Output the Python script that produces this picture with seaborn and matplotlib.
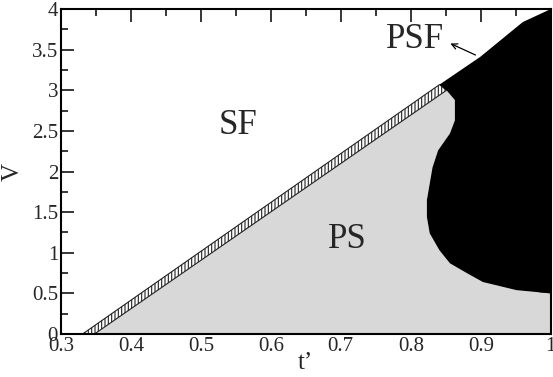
import matplotlib
matplotlib.use("Agg")
import matplotlib.pyplot as plt
import seaborn as sns
from matplotlib.ticker import MultipleLocator, FormatStrFormatter

# phase boundaries (t', V)
sf_edge_t = [0.331, 0.841]
sf_edge_v = [0.0, 3.07]
ps_edge_t = [0.348, 0.851]
ps_edge_v = [0.0, 3.00]

# black PSF region: lower/left boundary (top to bottom)
psf_low_t = [0.851, 0.863, 0.863, 0.856, 0.839, 0.831, 0.823, 0.823, 0.827,
             0.841, 0.856, 0.880, 0.903, 0.951, 1.0]
psf_low_v = [3.00, 2.88, 2.63, 2.47, 2.26, 2.05, 1.65, 1.44, 1.24,
             1.03, 0.87, 0.75, 0.64, 0.54, 0.50]
# black PSF region: upper boundary
psf_up_t = [0.841, 0.899, 0.960, 1.0]
psf_up_v = [3.07, 3.41, 3.84, 4.0]

labels = ["SF", "PS", "PSF"]
label_t = [0.553, 0.71, 0.806]
label_v = [2.57, 1.16, 3.62]

sns.set_style("ticks")
plt.rcParams['font.family'] = ['Liberation Serif', 'DejaVu Serif']
plt.rcParams['hatch.linewidth'] = 0.8

fig = plt.figure(figsize=(5.53, 3.77), dpi=100)
ax = fig.add_axes([0.110, 0.114, 0.886, 0.862])

# grey PS region
gray_t = ps_edge_t + psf_low_t + [1.0, ps_edge_t[0]]
gray_v = ps_edge_v + psf_low_v + [0.0, 0.0]
ax.fill(gray_t, gray_v, color='#d8d8d8', lw=0)

# hatched strip between SF and PS
strip_t = sf_edge_t + ps_edge_t[::-1]
strip_v = sf_edge_v + ps_edge_v[::-1]
ax.fill(strip_t, strip_v, facecolor='white', edgecolor='#222222',
        hatch='|||||', lw=0.8)

# black PSF region
blk_t = psf_up_t + [1.0] + psf_low_t[::-1]
blk_v = psf_up_v + [0.5] + psf_low_v[::-1]
ax.fill(blk_t, blk_v, color='black', lw=0)

for lab, t, v in zip(labels, label_t, label_v):
    ax.text(t, v, lab, fontsize=25, ha='center', va='center')

ax.annotate("", xy=(0.853, 3.59), xytext=(0.896, 3.42),
            arrowprops=dict(arrowstyle='->', color='black', lw=0.9))

ax.set_xlim(0.3, 1.0)
ax.set_ylim(0, 4)
ax.xaxis.set_major_locator(MultipleLocator(0.1))
ax.xaxis.set_minor_locator(MultipleLocator(0.05))
ax.yaxis.set_major_locator(MultipleLocator(0.5))
ax.yaxis.set_minor_locator(MultipleLocator(0.25))
ax.xaxis.set_major_formatter(FormatStrFormatter('%g'))
ax.yaxis.set_major_formatter(FormatStrFormatter('%g'))
ax.tick_params(which='both', direction='in', top=True, right=True,
               labelsize=15, width=1.3, pad=2)
ax.tick_params(which='major', length=9)
ax.tick_params(which='minor', length=5)
for s in ax.spines.values():
    s.set_linewidth(1.5)
    s.set_color('black')

ax.set_xlabel("t’", fontsize=18, labelpad=-3)
ax.set_ylabel("V", fontsize=18, labelpad=6)

fig.savefig("out.png", dpi=100)
